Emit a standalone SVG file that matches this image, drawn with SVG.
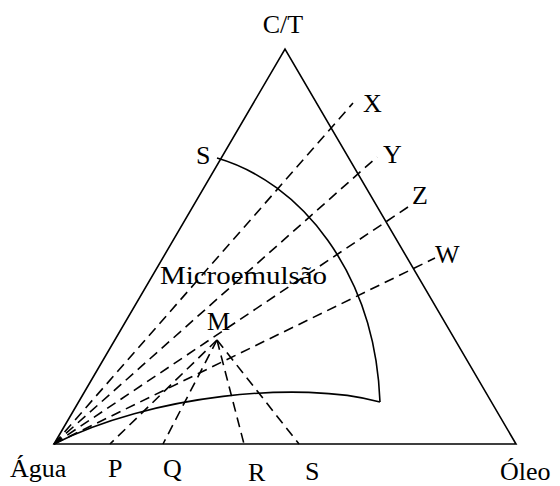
<svg xmlns="http://www.w3.org/2000/svg" width="560" height="486" viewBox="0 0 560 486">
<style>
.t{font-family:"Liberation Serif","Times New Roman",Tinos,"DejaVu Serif",serif;font-size:26px;fill:#000}
.s{fill:none;stroke:#000;stroke-width:1.6}
.d{fill:none;stroke:#000;stroke-width:1.6;stroke-dasharray:10 6}
</style>
<rect width="560" height="486" fill="#fff"/>
<g id="triangle">
<path class="s" d="M54,444 L285,49 L516,444 Z"/>
</g>
<g id="region">
<path class="s" d="M217,158 C300,182 375,272 380,402"/>
<path class="s" d="M54,444 C150,395 300,380 380,402"/>
</g>
<g id="connectors">
<line class="d" x1="54" y1="444" x2="353" y2="103"/>
<line class="d" x1="54" y1="444" x2="377" y2="157"/>
<line class="d" x1="54" y1="444" x2="408" y2="207"/>
<line class="d" x1="54" y1="444" x2="435" y2="258"/>
<line class="d" x1="217" y1="340" x2="110" y2="444"/>
<line class="d" x1="217" y1="340" x2="163" y2="444"/>
<line class="d" x1="217" y1="340" x2="244" y2="444"/>
<line class="d" x1="217" y1="340" x2="299" y2="444"/>
</g>
<g id="labels">
<text class="t" x="283" y="33" text-anchor="middle">C/T</text>
<text class="t" x="363" y="112">X</text>
<text class="t" x="383" y="163">Y</text>
<text class="t" x="412" y="204">Z</text>
<text class="t" x="435" y="263">W</text>
<text class="t" x="196" y="164">S</text>
<text class="t" x="160" y="284" font-size="27" textLength="167" lengthAdjust="spacingAndGlyphs">Microemulsão</text>
<text class="t" x="207" y="330">M</text>
<text class="t" x="10" y="477">Água</text>
<text class="t" x="108" y="477">P</text>
<text class="t" x="163" y="477">Q</text>
<text class="t" x="248" y="481">R</text>
<text class="t" x="305" y="480">S</text>
<text class="t" x="500" y="480">Óleo</text>
</g>
</svg>
